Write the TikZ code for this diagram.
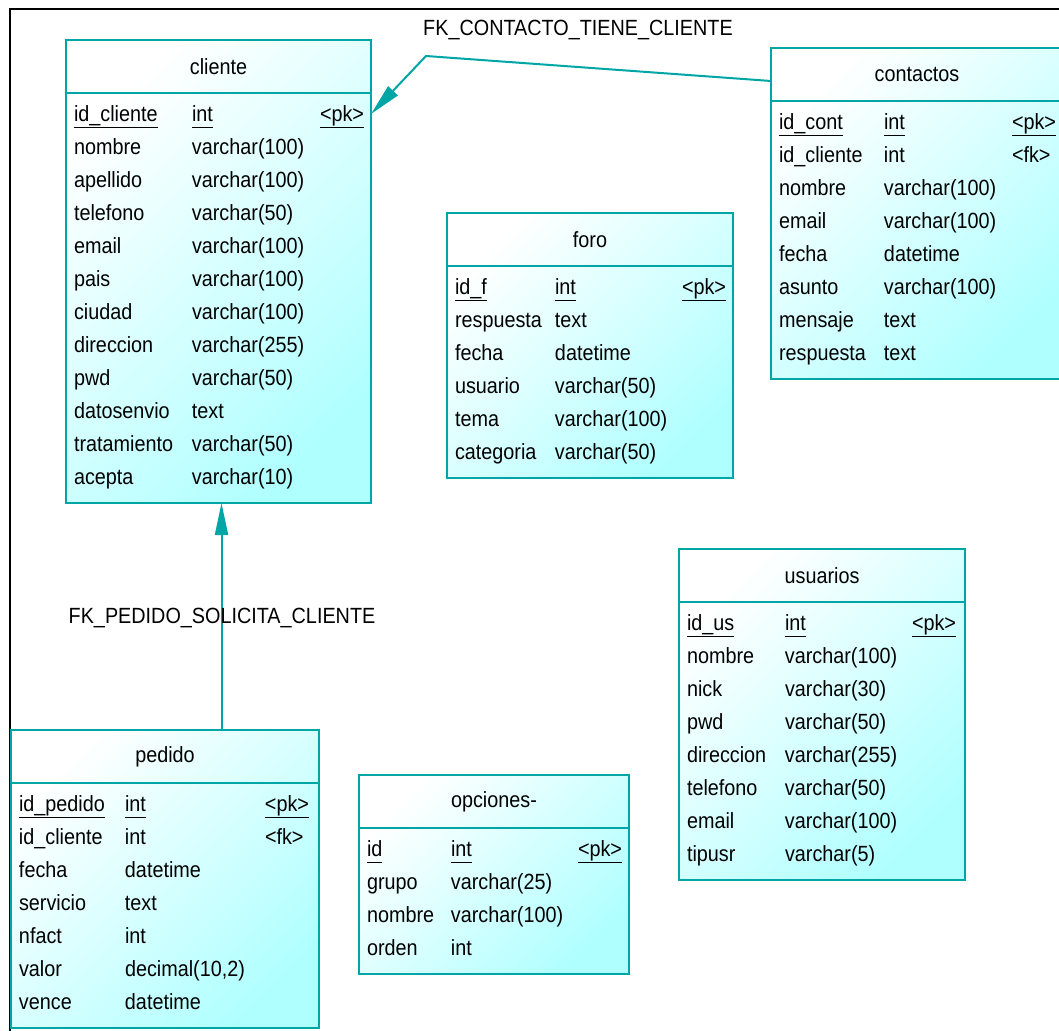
\documentclass[tikz,border=0pt]{standalone}
\usepackage{fontspec}
\setmainfont[FakeStretch=0.9]{Liberation Sans}
\usepackage{tikz}
\usetikzlibrary{calc,arrows.meta,backgrounds}
\definecolor{pdteal}{RGB}{0,166,166}
\definecolor{pdcyan}{RGB}{176,255,255}
\setlength\tabcolsep{0pt}
\tikzstyle{headbox}=[rectangle,draw=pdteal,line width=2pt,anchor=north west,
                     minimum height=53pt,inner sep=0pt,outer sep=0pt]
\tikzstyle{bodybox}=[rectangle,draw=pdteal,line width=2pt,anchor=north west,
                     inner xsep=8pt,inner ysep=5pt,outer sep=0pt]
\tikzstyle{tablefill}=[top color=white,bottom color=pdcyan,shading angle=45]
\tikzstyle{fkline}=[draw=pdteal,line width=2pt,
                    -{Triangle[length=32pt,width=13pt]}]
\newcommand\ukey[1]{\underline{#1\vphantom{\_}}}
\newcommand\pkrow[2]{\ukey{#1} & \ukey{#2} & \ukey{<pk>}}

\begin{document}
\begin{tikzpicture}[x=1pt,y=-1pt,font=\fontsize{22}{33}\selectfont]
    \useasboundingbox (0,0) rectangle (1059,1030);
    \draw [line width=2pt] (10,1032) -- (10,9) -- (1062,9);

    % cliente
    \node [headbox,minimum width=305pt] (cliente) at (66,40) {cliente};
    \node [bodybox] (cliente-rows) at (cliente.south west) {
        \begin{tabular}{@{}p{118pt}p{128pt}p{43pt}@{}}
            \pkrow{id\_cliente}{int} \\
            nombre & varchar(100) & \\
            apellido & varchar(100) & \\
            telefono & varchar(50) & \\
            email & varchar(100) & \\
            pais & varchar(100) & \\
            ciudad & varchar(100) & \\
            direccion & varchar(255) & \\
            pwd & varchar(50) & \\
            datosenvio & text & \\
            tratamiento & varchar(50) & \\
            acepta & varchar(10) & \\[4pt]
        \end{tabular}
    };

    % contactos
    \node [headbox,minimum width=292pt] (contactos) at (771,48) {contactos};
    \node [bodybox] (contactos-rows) at (contactos.south west) {
        \begin{tabular}{@{}p{105pt}p{128pt}p{43pt}@{}}
            \pkrow{id\_cont}{int} \\
            id\_cliente & int & <fk> \\
            nombre & varchar(100) & \\
            email & varchar(100) & \\
            fecha & datetime & \\
            asunto & varchar(100) & \\
            mensaje & text & \\
            respuesta & text & \\[4pt]
        \end{tabular}
    };

    % foro
    \node [headbox,minimum width=286pt] (foro) at (447,213) {foro};
    \node [bodybox] (foro-rows) at (foro.south west) {
        \begin{tabular}{@{}p{100pt}p{127pt}p{43pt}@{}}
            \pkrow{id\_f}{int} \\
            respuesta & text & \\
            fecha & datetime & \\
            usuario & varchar(50) & \\
            tema & varchar(100) & \\
            categoria & varchar(50) & \\[4pt]
        \end{tabular}
    };

    % usuarios
    \node [headbox,minimum width=286pt] (usuarios) at (679,549) {usuarios};
    \node [bodybox] (usuarios-rows) at (usuarios.south west) {
        \begin{tabular}{@{}p{98pt}p{127pt}p{45pt}@{}}
            \pkrow{id\_us}{int} \\
            nombre & varchar(100) & \\
            nick & varchar(30) & \\
            pwd & varchar(50) & \\
            direccion & varchar(255) & \\
            telefono & varchar(50) & \\
            email & varchar(100) & \\
            tipusr & varchar(5) & \\[4pt]
        \end{tabular}
    };

    % pedido
    \node [headbox,minimum width=308pt] (pedido) at (11,730) {pedido};
    \node [bodybox] (pedido-rows) at (pedido.south west) {
        \begin{tabular}{@{}p{106pt}p{140pt}p{46pt}@{}}
            \pkrow{id\_pedido}{int} \\
            id\_cliente & int & <fk> \\
            fecha & datetime & \\
            servicio & text & \\
            nfact & int & \\
            valor & decimal(10,2) & \\
            vence & datetime & \\[4pt]
        \end{tabular}
    };

    % opciones
    \node [headbox,minimum width=270pt] (opciones) at (359,775) {opciones-};
    \node [bodybox] (opciones-rows) at (opciones.south west) {
        \begin{tabular}{@{}p{84pt}p{127pt}p{43pt}@{}}
            \pkrow{id}{int} \\
            grupo & varchar(25) & \\
            nombre & varchar(100) & \\
            orden & int & \\[4pt]
        \end{tabular}
    };

    % gradient behind each table
    \begin{scope}[on background layer]
        \foreach \t in {cliente,contactos,foro,usuarios,pedido,opciones}
            \shade [tablefill] (\t.north west) rectangle (\t-rows.south east);
    \end{scope}

    % foreign keys
    \coordinate (fk1 bend) at (426,56);
    \draw [fkline] ([yshift=-6.5pt]contactos.west) -- (fk1 bend)
        -- ([yshift=-21pt]cliente-rows.north east);
    \node (fk1 label) at (578,30) {FK\_CONTACTO\_TIENE\_CLIENTE};

    \coordinate (fk2 end) at ([xshift=3pt]cliente-rows.south);
    \draw [fkline] (pedido.north -| fk2 end) -- (fk2 end);
    \node (fk2 label) at (222,618) {FK\_PEDIDO\_SOLICITA\_CLIENTE};
\end{tikzpicture}
\end{document}
